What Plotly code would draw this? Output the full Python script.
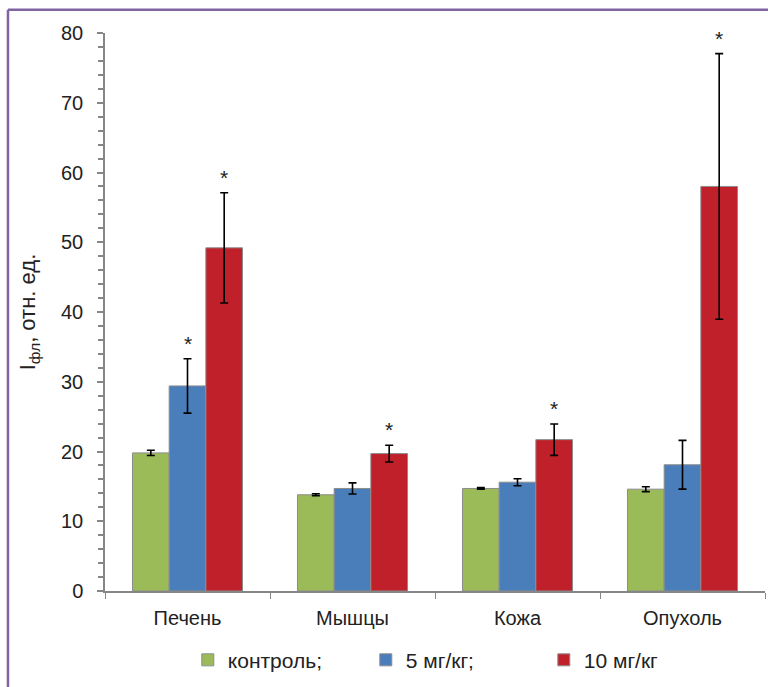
import plotly.graph_objects as go

categories = ["Печень", "Мышцы", "Кожа", "Опухоль"]
series_names = ["контроль;", "5 мг/кг;", "10 мг/кг"]
control_vals = [19.8, 13.8, 14.7, 14.6]
control_err = [0.38, 0.15, 0.12, 0.35]
dose5_vals = [29.4, 14.7, 15.6, 18.1]
dose5_err = [3.9, 0.8, 0.5, 3.5]
dose10_vals = [49.2, 19.7, 21.7, 58.0]
dose10_err = [7.9, 1.2, 2.25, 19.05]
dose5_sig = [True, False, False, False]
dose10_sig = [True, True, True, True]
y_ticks = [0, 10, 20, 30, 40, 50, 60, 70, 80]

colors = ["#9bbb59", "#4a7ebb", "#c0202a"]
FONT = "Arial, Liberation Sans, sans-serif"
TXT = "#222222"

fig = go.Figure()
for name, vals, errs, col in zip(series_names,
                                 [control_vals, dose5_vals, dose10_vals],
                                 [control_err, dose5_err, dose10_err],
                                 colors):
    fig.add_trace(go.Bar(
        x=categories, y=vals, name=name,
        marker=dict(color=col, line=dict(color="#8c8c8c", width=1)),
        error_y=dict(type="data", array=errs, visible=True,
                     color="black", thickness=1.6, width=4),
    ))

# significance asterisks above error bars
for s_idx, (vals, errs, sig) in enumerate([(dose5_vals, dose5_err, dose5_sig),
                                           (dose10_vals, dose10_err, dose10_sig)], start=1):
    for i, cat in enumerate(categories):
        if sig[i]:
            fig.add_annotation(
                x=cat, y=vals[i] + errs[i], xref="x", yref="y",
                text="*", showarrow=False, yanchor="bottom",
                xshift=(s_idx - 1) * 36.7, yshift=2,
                font=dict(size=21, color=TXT, family=FONT),
            )

# purple frame (top and left edges)
frame_col = "#8064a2"
fig.add_shape(type="line", xref="paper", yref="paper",
              x0=-0.147, x1=1.01, y0=1.0415, y1=1.0415,
              line=dict(color=frame_col, width=2.5))
fig.add_shape(type="line", xref="paper", yref="paper",
              x0=-0.147, x1=-0.147, y0=1.0415, y1=-0.2,
              line=dict(color=frame_col, width=2.5))

fig.update_layout(
    width=768, height=687,
    margin=dict(l=105, r=3, t=33, b=96),
    paper_bgcolor="white", plot_bgcolor="white",
    barmode="group", bargap=0.333, bargroupgap=0,
    font=dict(family=FONT, size=20, color=TXT),
    showlegend=True,
    legend=dict(orientation="h", x=0.53, xanchor="center", y=-0.124, yanchor="middle",
                font=dict(size=21, color=TXT),
                entrywidth=133, entrywidthmode="pixels", traceorder="normal"),
)

fig.update_xaxes(
    showline=True, linecolor="#868686", linewidth=1.5,
    ticks="outside", tickson="boundaries", ticklen=6, tickcolor="#868686",
    tickfont=dict(size=20, color=TXT), showgrid=False, ticklabelstandoff=8,
)
fig.update_yaxes(
    range=[0, 80], tickvals=y_ticks, showline=True, linecolor="#868686", linewidth=1.5,
    ticks="outside", ticklen=6, tickcolor="#868686", tickwidth=1.5,
    minor=dict(dtick=2, ticks="outside", ticklen=5, tickcolor="#868686", tickwidth=1.5),
    tickfont=dict(size=20, color=TXT), showgrid=False, zeroline=False,
    ticklabelstandoff=10,
    title=dict(text="I<sub>фл</sub>, отн. ед.", font=dict(size=22, color=TXT), standoff=19),
)

fig.write_html("out.html", config={"displayModeBar": False},
               post_script="document.body.style.margin='0';document.body.style.overflow='hidden';")
